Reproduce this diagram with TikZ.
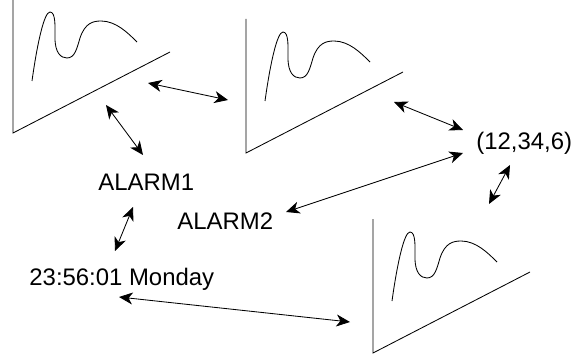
\documentclass[tikz,border=0pt]{standalone}
\usepackage{fontspec}
\setmainfont{Liberation Sans}
\usetikzlibrary{arrows.meta,positioning}

\tikzset{
  link/.style={{Stealth[length=0.34cm,width=0.3cm,inset=0.1cm]}-{Stealth[length=0.34cm,width=0.3cm,inset=0.1cm]}},
  lbl/.style={anchor=base west, inner sep=0pt, font=\fontsize{17}{20}\selectfont},
}

% one sketched graph, corner of the axes at the origin
\newcommand{\sketchplot}{%
  \draw (0,-134) -- (0,0) -- (157,-81);
  \draw (19,-52) .. controls (24,-88) and (31,-121) .. (37,-121)
    .. controls (43,-121) and (42,-105) .. (42,-95)
    .. controls (42,-80) and (48,-75) .. (54,-75)
    .. controls (62,-75) and (64,-85) .. (67,-95)
    .. controls (72,-110) and (80,-112) .. (88,-112)
    .. controls (103,-112) and (115,-100) .. (124,-91);
}

\begin{document}
\begin{tikzpicture}[x=0.025cm, y=-0.025cm, line width=0.6pt]
\useasboundingbox (0,0) rectangle (571,360);
% graphs
\begin{scope}[shift={(13,133)}]
\sketchplot
\end{scope}
\begin{scope}[shift={(246,153)}]
\sketchplot
\end{scope}
\begin{scope}[shift={(373,353)}]
\sketchplot
\end{scope}
% labels
\node[lbl] (alarmone) at (98,190) {ALARM1};
\node[lbl] (alarmtwo) at (177,229) {ALARM2};
\node[lbl] (clock) at (29,285) {23:56:01 Monday};
\node[lbl] (triple) at (476,150) {(12,34,6)};
% arrow ends
\coordinate (ga) at (148,83);
\coordinate (gb) at (228,100);
\coordinate (gc) at (106,105);
\coordinate (aa) at (143,155);
\coordinate (ab) at (133,207);
\coordinate (ca) at (115,251);
\coordinate (cb) at (119,297);
\coordinate (gd) at (350,322);
\coordinate (ac) at (286,212);
\coordinate (ta) at (463,153);
\coordinate (ge) at (394,102);
\coordinate (tb) at (463,130);
\coordinate (tc) at (510,165);
\coordinate (gf) at (489,204);
% links
\draw[link] (ga) -- (gb);
\draw[link] (gc) -- (aa);
\draw[link] (ab) -- (ca);
\draw[link] (cb) -- (gd);
\draw[link] (ac) -- (ta);
\draw[link] (ge) -- (tb);
\draw[link] (tc) -- (gf);
\end{tikzpicture}
\end{document}
